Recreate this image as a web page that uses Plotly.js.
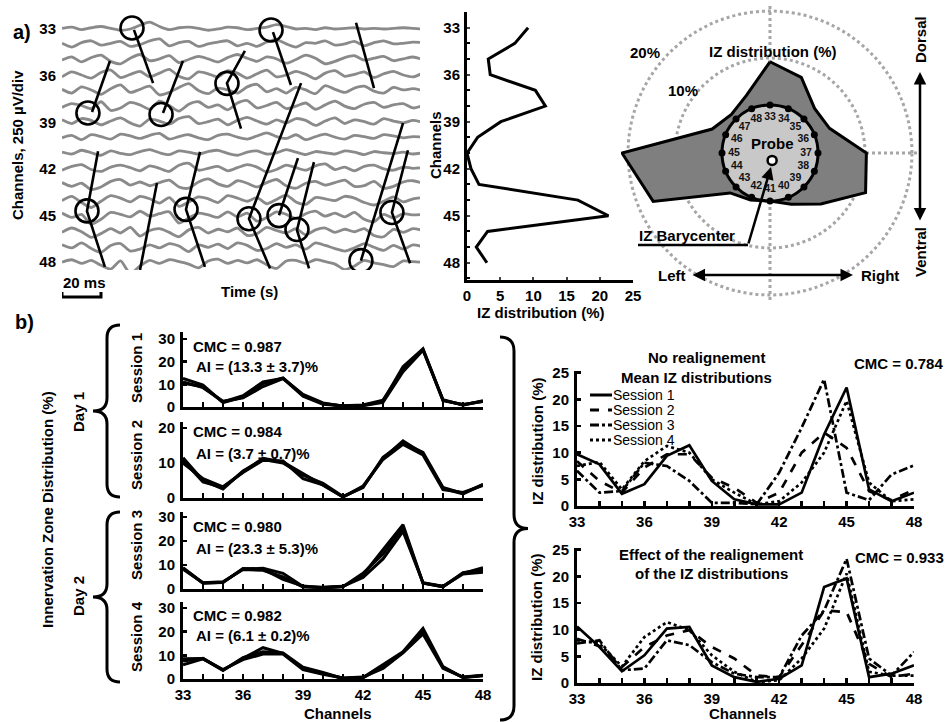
<!DOCTYPE html>
<html><head><meta charset="utf-8">
<script src="https://cdn.plot.ly/plotly-3.0.1.min.js"></script>
<style>html,body{margin:0;padding:0;background:#fff}#chart{width:947px;height:722px}</style>
</head><body><div id="chart"></div>
<script>
const W = 947, H = 722;
const FONT = 'Liberation Sans, Arial, sans-serif';

// ---------- DATA ----------
const channels = [33,34,35,36,37,38,39,40,41,42,43,44,45,46,47,48];
const channelTicks = [33,36,39,42,45,48];

// a) EMG traces, time in ms, amplitude in µV (250 µV per channel division)
const emgTime = [0,5,10,15,20,25,30,35,40,45,50,55,60,65,70,75,80,85,90,95,100,105,110,115,120,125,130,135,140,145,150,155,160,165,170,175,180,185];
const emg33 = [10,30,-10,20,40,10,-20,0,60,110,40,-10,20,30,10,-20,0,30,20,-10,10,30,70,40,0,10,-10,20,0,10,20,0,10,0,10,20,10,0];
const emg34 = [20,-40,30,60,-10,20,50,-30,0,60,90,-20,30,50,-30,10,40,60,-20,20,-30,40,80,10,-40,30,20,60,-10,10,50,-20,30,60,10,20,40,30];
const emg35 = [0,50,-30,40,80,-20,-60,30,90,-10,20,70,-40,10,60,20,-30,40,90,30,-20,50,20,-50,10,80,30,-60,-20,40,70,0,30,60,-10,20,50,10];
const emg36 = [-20,60,10,-40,50,90,-30,20,70,-20,40,100,-10,-50,60,30,-20,80,40,-40,30,90,-20,10,70,20,-50,40,80,-10,20,60,-30,30,70,10,-20,40];
const emg37 = [30,-30,70,20,-50,40,100,-20,30,80,-60,-20,60,120,10,-40,50,20,-30,70,110,-10,40,-30,60,20,-40,90,30,-20,50,80,0,-30,60,20,40,10];
const emg38 = [-10,50,20,-30,80,-60,-20,70,30,-40,90,20,-70,40,80,-10,30,-50,60,100,-20,20,70,-30,10,60,-40,30,90,10,-30,40,70,-10,30,50,-20,20];
const emg39 = [40,-20,60,30,-40,20,70,-10,-60,50,20,-30,60,90,-20,10,50,-40,30,80,20,-30,40,-10,60,30,-50,20,70,-20,40,10,-30,60,20,-10,30,0];
const emg40 = [0,40,-30,50,20,-20,60,30,-10,40,70,-20,20,50,0,-30,40,60,10,-20,30,80,20,-10,50,-30,20,60,10,-20,40,20,-10,50,30,0,20,10];
const emg41 = [20,-10,50,10,-30,40,0,-20,30,60,10,-20,40,20,-10,30,50,0,-30,20,40,-10,10,60,20,-20,30,10,-10,40,20,-20,30,10,0,20,-10,10];
const emg42 = [-20,40,70,-10,-40,30,60,20,-30,50,10,-40,60,90,-20,10,40,-30,20,70,30,-50,-10,60,20,-20,50,80,-10,30,-30,40,60,0,-20,30,10,20];
const emg43 = [30,-30,20,-80,-40,50,80,-10,40,-20,30,70,-40,-60,40,90,10,-30,60,20,-40,30,80,-20,-60,20,50,-10,30,70,-30,-20,50,-60,-30,40,60,20];
const emg44 = [-10,60,-40,-120,-20,70,30,-30,60,20,-50,40,-100,-30,50,20,-40,70,30,-20,40,-60,10,80,-30,-70,40,20,-10,60,30,-40,-80,-20,50,-30,20,40];
const emg45 = [40,-30,20,-140,-60,50,20,-20,70,-10,30,60,-120,-40,40,10,-30,60,-20,40,-90,-30,60,20,-50,30,70,-10,40,-20,50,-60,-100,20,-40,30,10,20];
const emg46 = [-20,50,-10,-100,-40,40,-30,60,-80,10,40,-20,-90,20,60,-30,30,-10,50,-70,-40,60,10,-30,40,-60,20,50,-20,30,-10,40,-70,-90,30,-20,40,10];
const emg47 = [30,-20,60,-30,-90,20,50,-70,-40,30,-20,50,10,-80,30,-10,40,-30,60,20,-60,-30,50,-10,30,-40,60,20,-30,-70,-20,50,-10,-60,20,-40,30,0];
const emg48 = [0,40,-20,30,-50,-110,20,-180,-60,30,-20,40,10,-30,-90,20,50,-20,30,-10,40,-40,-100,20,30,-20,40,10,-30,-120,-60,30,-10,-40,-70,20,10,0];
const emgTraces = [emg33,emg34,emg35,emg36,emg37,emg38,emg39,emg40,emg41,emg42,emg43,emg44,emg45,emg46,emg47,emg48];
const uVperDiv = 250;

// propagation lines (time ms, channel) and detected IZ positions
const propT  = [[36.9,46.7],[24.6,15.4],[62,51.8],[93.8,84.6,91.8],[108.2,117.4],[150.8,160],[18.5,12.8,22],[48.7,40],[70.8,63.6,73.3],[122.6,95.9,106.7],[121,111.3],[129.2,120.5,126.7],[174.9,153.3],[177.4,169.2,178.5]];
const propCh = [[33.06,36.48],[35.06,38.34],[35.06,38.4],[34.4,36.48,39.4],[33.2,36.6],[32.6,36.8],[40.86,44.72,48.3],[42.9,48.5],[40.9,44.6,48.3],[36.48,45.2,48.4],[41.3,44.98],[41.56,45.94,48.4],[39.05,47.9],[40.8,44.8,48.07]];
const izT  = [35.9,13.3,50.8,84.6,107.2,12.8,63.6,95.9,111.3,120.5,153.3,169.2];
const izCh = [32.94,38.4,38.5,36.5,33.06,44.7,44.6,45.2,45,45.9,47.9,44.8];

// IZ distribution (%) per channel
const izDist = [9.2,7.2,3.2,3.5,10.3,11.8,5.1,1.6,0,0.6,1.8,16.7,21.3,3.1,1.4,3.0];
const baryR = 0.16, baryTheta = 164;   // barycenter in probe coordinates

// b) repeated IZ distributions per session
const s1a = [12.6,9.6,1.9,4.4,10.3,12.8,5.2,1.5,0.4,0.7,2.5,17.7,25.6,3,1,2.5];
const s1b = [11,8.5,2.5,4,9,12.5,5.5,1.8,0.3,0.6,2,15.5,25,3.2,0.8,2.8];
const s1c = [10.5,9,2.2,5,11,12.6,4.8,1.2,0.5,0.9,3,16.5,25.3,2.8,1.1,2.4];
const s2a = [10.8,4.6,3,7.5,11.3,10.3,7,3.6,0.3,3.2,11.3,16.3,12.7,2.7,1.2,3.8];
const s2b = [10,5.5,3.2,7.3,10.8,10.6,5.5,3.8,0.3,3.4,11,15.3,12.3,2.4,1.6,3.6];
const s2c = [11.5,5,2.6,7.7,11,10,6.5,4.2,0.4,3,11.6,15.8,13,3,1.3,3.9];
const s3a = [8.6,2.4,2.8,8.3,8.6,6.5,1,0.6,1,5.8,16.3,26.7,2.4,1,6.5,8.9];
const s3b = [8.2,2.6,3,8.1,7.8,5,0.8,0.7,1.1,4.8,12.5,24,2.6,1.1,6.2,7];
const s3c = [8.8,2.5,2.7,8.5,8.2,4,1.2,0.5,0.9,6.5,14.5,25.5,2.5,0.9,6.8,8];
const s4a = [7.6,8.7,3.8,8.7,13.2,10.8,4.5,2.4,0.3,0.6,5.9,11.5,21.4,5.2,0.6,1.4];
const s4b = [6,8.5,4,8.2,10.5,10.5,4,2,0.4,0.8,4.5,11,19,4.5,0.8,1.6];
const s4c = [8.5,8.6,3.6,9,11.5,11,5,2.8,0.2,0.5,5.2,11.2,20.2,4.8,0.7,1.5];
const sessionStats = [['CMC = 0.987','AI = (13.3 ± 3.7)%'],['CMC = 0.984','AI = (3.7 ± 0.7)%'],['CMC = 0.980','AI = (23.3 ± 5.3)%'],['CMC = 0.982','AI = (6.1 ± 0.2)%']];

// mean distributions, no realignment / realigned
const noRealign1 = [9.7,7.8,2.3,4.1,9.4,11.4,4.7,1.25,0.3,0.3,2.5,13.4,22.2,3.1,0.9,2.5];
const noRealign2 = [8.4,4.7,2.5,7.2,9.7,9.7,5.3,3.4,0.6,2.5,10,13.75,10.9,2.8,1.1,3.1];
const noRealign3 = [6.6,2.5,2.8,8.1,7.5,4.7,0.6,0.6,0.3,6.25,14.7,23.75,2.5,1.1,5.9,7.6];
const noRealign4 = [7.5,8.25,3.1,8.4,11.25,10,5,2.5,0.3,0.9,4.4,10,19.7,4.4,0.9,1.25];
const realign1 = [10.6,6.75,2.2,5.2,10.2,10.5,3.3,1.1,0.2,0.8,3.3,18,19.6,1.1,1.75,3.3];
const realign2 = [8.3,6.9,3,6.75,8.9,9.9,6.75,4.6,1.4,1.1,7.1,13.6,13.3,3.6,1.1,1.75];
const realign3 = [7.4,8,2.4,2.7,8,7.1,3.9,1.75,1.1,1.1,8.9,13.6,23.3,4.6,1.4,5.8];
const realign4 = [8,7.4,3.1,8.6,11.4,9.9,5.2,2.1,0.2,0.5,4.6,10.2,20.5,2.1,1.4,1.4];
const sessionNames = ['Session 1','Session 2','Session 3','Session 4'];
const sessionDash = ['solid','dash','dashdot','dot'];

// ---------- helpers ----------
const X = px => px / W;
const Y = py => 1 - py / H;
const BOLD = (size) => ({family: FONT, size: size, color: '#000', weight: 'bold'});

const traces = [];

// EMG traces
emgTraces.forEach((arr, i) => {
  traces.push({type:'scatter', mode:'lines', x: emgTime, y: arr.map(v => channels[i] - v / uVperDiv),
    xaxis:'x', yaxis:'y', line:{color:'#8a8a8a', width:2.8, shape:'spline', smoothing:0.7}, hoverinfo:'skip'});
});
// propagation lines
{
  const px = [], py = [];
  propT.forEach((seg, k) => { seg.forEach((t, j) => { px.push(t); py.push(propCh[k][j]); }); px.push(null); py.push(null); });
  traces.push({type:'scatter', mode:'lines', x:px, y:py, xaxis:'x', yaxis:'y', line:{color:'#000', width:2.6}, connectgaps:false});
}
traces.push({type:'scatter', mode:'markers', x: izT, y: izCh, xaxis:'x', yaxis:'y',
  marker:{symbol:'circle-open', size:23, color:'#000', line:{width:2.6, color:'#000'}}});

// middle IZ distribution
traces.push({type:'scatter', mode:'lines', x: izDist, y: channels, xaxis:'x2', yaxis:'y2', line:{color:'#000', width:3}});

// polar distribution
const theta = channels.map(c => (c - channels[0]) * 360 / channels.length);
traces.push({type:'scatterpolar', subplot:'polar', r: izDist.concat([izDist[0]]), theta: theta.concat([theta[0]]),
  mode:'lines', fill:'toself', fillcolor:'#7f7f7f', line:{color:'#000', width:3}, cliponaxis:false});
// probe electrodes
traces.push({type:'scatterpolar', subplot:'polar2', r: channels.map(() => 1), theta: theta, mode:'markers',
  marker:{color:'#000', size:7}, cliponaxis:false});
traces.push({type:'scatterpolar', subplot:'polar2', r: channels.map(() => 0.75), theta: theta, mode:'text',
  text: channels.map(String), textfont:{family:FONT, size:10.5, color:'#111', weight:'bold'}, cliponaxis:false});
traces.push({type:'scatterpolar', subplot:'polar2', r:[baryR], theta:[baryTheta], mode:'markers',
  marker:{color:'#fff', size:9, line:{color:'#000', width:2.5}}, cliponaxis:false});

// b) left stacked session panels
const sessSets = [[s1a,s1b,s1c],[s2a,s2b,s2c],[s3a,s3b,s3c],[s4a,s4b,s4c]];
sessSets.forEach((set, i) => {
  set.forEach(arr => traces.push({type:'scatter', mode:'lines', x: channels, y: arr,
    xaxis:'x' + (i + 3), yaxis:'y' + (i + 3), line:{color:'#000', width:3}}));
});
// b) right panels
[noRealign1,noRealign2,noRealign3,noRealign4].forEach((arr, i) => traces.push({type:'scatter', mode:'lines',
  x: channels, y: arr, xaxis:'x7', yaxis:'y7', name: sessionNames[i], line:{color:'#000', width:2.7, dash: sessionDash[i]}}));
[realign1,realign2,realign3,realign4].forEach((arr, i) => traces.push({type:'scatter', mode:'lines',
  x: channels, y: arr, xaxis:'x8', yaxis:'y8', name: sessionNames[i], line:{color:'#000', width:2.7, dash: sessionDash[i]}}));

// ---------- layout ----------
const axLine = {showline:true, linecolor:'#000', linewidth:3, showgrid:false, zeroline:false};
function chanX(dom, anchor, labels) {
  return Object.assign({}, axLine, {domain: dom, anchor: anchor, range:[33,48], tickmode:'array', tickvals: channelTicks,
    showticklabels: labels, ticks:'inside', ticklen:5, tickwidth:2.5, tickcolor:'#000', tickfont: BOLD(15),
    ticklabelstandoff: 0,
    minor:{tickmode:'linear', tick0:33, dtick:1, ticks:'inside', ticklen:5, tickwidth:2.5, tickcolor:'#000'}});
}
function valY(dom, anchor, range, vals) {
  return Object.assign({}, axLine, {domain: dom, anchor: anchor, range: range, tickmode:'array', tickvals: vals,
    ticks:'inside', ticklen:4, tickwidth:2.5, tickcolor:'#000', tickfont: BOLD(15), ticklabelstandoff: 2});
}
const leftDom = [X(183), X(483)];
const rightDom = [X(577), X(914)];

const layout = {
  width: W, height: H, margin:{l:0, r:0, t:0, b:0}, paper_bgcolor:'#fff', plot_bgcolor:'rgba(0,0,0,0)',
  showlegend:false, font:{family: FONT, color:'#000'},
  xaxis: {domain:[X(62), X(420)], anchor:'y', range:[0,183.6], visible:false},
  yaxis: {domain:[Y(270), Y(15)], anchor:'x', range:[48.5,32.1], tickmode:'array', tickvals: channelTicks,
    showline:false, showgrid:false, zeroline:false, ticks:'', tickfont: BOLD(15), ticklabelstandoff: 5},
  xaxis2: Object.assign({}, axLine, {domain:[X(467), X(633)], anchor:'y2', range:[0,25], tickmode:'array',
    tickvals:[0,5,10,15,20,25], ticks:'inside', ticklen:3, tickwidth:2, tickfont: BOLD(15), ticklabelstandoff: 0}),
  yaxis2: Object.assign({}, axLine, {domain:[Y(280), Y(12)], anchor:'x2', range:[49.1,32], tickmode:'array',
    tickvals: channelTicks, ticks:'inside', ticklen:3, tickwidth:2, tickfont: BOLD(15), ticklabelstandoff: 1,
    minor:{tickmode:'linear', tick0:33, dtick:1, ticks:'inside', ticklen:3, tickwidth:2, tickcolor:'#000'}}),
  xaxis3: chanX(leftDom, 'y3', false),
  yaxis3: valY([Y(407), Y(332)], 'x3', [0,33], [0,10,20,30]),
  xaxis4: chanX(leftDom, 'y4', false),
  yaxis4: valY([Y(498), Y(422)], 'x4', [0,21.7], [0,10,20]),
  xaxis5: chanX(leftDom, 'y5', false),
  yaxis5: valY([Y(589), Y(512)], 'x5', [0,32], [0,10,20,30]),
  xaxis6: chanX(leftDom, 'y6', true),
  yaxis6: valY([Y(679), Y(602)], 'x6', [0,32.5], [0,10,20,30]),
  xaxis7: chanX(rightDom, 'y7', true),
  yaxis7: valY([Y(506), Y(371)], 'x7', [0,25.3], [0,5,10,15,20,25]),
  xaxis8: chanX(rightDom, 'y8', true),
  yaxis8: valY([Y(683), Y(548)], 'x8', [0,25.3], [0,5,10,15,20,25]),
  polar: {domain:{x:[X(621), X(919)], y:[Y(302), Y(4)]}, hole: 48/149, bgcolor:'rgba(0,0,0,0)',
    radialaxis:{range:[0,21.5], tickvals:[10,20], showticklabels:false, ticks:'', showline:false,
      gridcolor:'#a6a6a6', gridwidth:3, griddash:'dot'},
    angularaxis:{direction:'clockwise', rotation:90, tickvals:[0,90,180,270], showticklabels:false, ticks:'',
      showline:false, gridcolor:'#a6a6a6', gridwidth:3, griddash:'dot'}},
  polar2: {domain:{x:[X(722), X(818)], y:[Y(201), Y(105)]}, bgcolor:'#c8c8c8',
    radialaxis:{visible:false, range:[0,1]},
    angularaxis:{direction:'clockwise', rotation:90, showline:true, linecolor:'#000', linewidth:3,
      showgrid:false, ticks:'', showticklabels:false}},
  shapes: [], annotations: []
};

// braces
function brace(xe, xs, xt, y1, y2, r) {
  const ym = (y1 + y2) / 2;
  const p = (x, y) => X(x) + ',' + Y(y);
  return {type:'path', xref:'paper', yref:'paper', line:{color:'#000', width:3},
    path: 'M' + p(xe,y1) + ' Q' + p(xs,y1) + ' ' + p(xs,y1+r) + ' L' + p(xs,ym-r) + ' Q' + p(xs,ym) + ' ' + p(xt,ym) +
          ' Q' + p(xs,ym) + ' ' + p(xs,ym+r) + ' L' + p(xs,y2-r) + ' Q' + p(xs,y2) + ' ' + p(xe,y2)};
}
layout.shapes.push(brace(120, 107, 93, 325, 497, 13));
layout.shapes.push(brace(120, 107, 93, 512, 682, 13));
layout.shapes.push(brace(500, 514, 528, 337, 720, 14));
// scale bar 20 ms
layout.shapes.push({type:'path', xref:'x', yref:'paper', line:{color:'#000', width:3},
  path: 'M0,' + Y(292) + ' L0,' + Y(297) + ' L20,' + Y(297) + ' L20,' + Y(292)});
// barycenter pointer line
layout.shapes.push({type:'line', xref:'paper', yref:'paper', x0:X(638), x1:X(748), y0:Y(245), y1:Y(245), line:{color:'#000', width:2.5}});
// custom legend
const legY = [395, 410, 425, 440];
sessionNames.forEach((nm, i) => {
  layout.shapes.push({type:'line', xref:'paper', yref:'paper', x0:X(590), x1:X(612), y0:Y(legY[i]), y1:Y(legY[i]),
    line:{color:'#000', width:3, dash: sessionDash[i]}});
  layout.annotations.push({text: nm, xref:'paper', yref:'paper', x:X(612), y:Y(legY[i]), xanchor:'left', yanchor:'middle',
    showarrow:false, borderpad:0, font:{family:FONT, size:14, color:'#000'}});
});

function ann(text, x, y, opt) {
  layout.annotations.push(Object.assign({text: text, xref:'paper', yref:'paper', x:X(x), y:Y(y), xanchor:'center',
    yanchor:'middle', showarrow:false, font: BOLD(15)}, opt || {}));
}
ann('a)', 22, 32, {font: BOLD(20)});
ann('b)', 24, 322, {font: BOLD(20)});
ann('Channels, 250 µV/div', 18, 145, {textangle:-90});
ann('20 ms', 84, 283);
ann('Time (s)', 250, 291);
ann('Channels', 436, 145, {textangle:-90});
ann('IZ distribution (%)', 540, 312);
ann('20%', 645, 53);
ann('10%', 683, 90);
ann('IZ distribution (%)', 772, 52);
ann('Probe', 772, 143);
ann('IZ Barycenter', 687, 235);
ann('Left', 672, 275);
ann('Right', 880, 275);
ann('Dorsal', 920, 40, {textangle:-90});
ann('Ventral', 920, 252, {textangle:-90});
ann('Innervation Zone Distribution (%)', 47, 510, {textangle:-90});
ann('Day 1', 78, 412, {textangle:-90});
ann('Day 2', 78, 596, {textangle:-90});
const sessLabelY = [368, 455, 545, 637];
sessionNames.forEach((nm, i) => ann(nm, 136, sessLabelY[i], {textangle:-90}));
const statY = [[346, 366], [432, 453], [526, 548], [615, 635]];
sessionStats.forEach((st, i) => {
  ann(st[0], 191, statY[i][0], {xanchor:'left'});
  ann(st[1], 194, statY[i][1], {xanchor:'left'});
});
ann('Channels', 338, 713, {borderpad:0});
ann('No realignement', 707, 357);
ann('Mean IZ distributions', 696, 377);
ann('CMC = 0.784', 898, 363);
ann('IZ distribution (%)', 537, 442, {textangle:-90});
ann('Effect of the realignement', 711, 554);
ann('of the IZ distributions', 711, 573);
ann('CMC = 0.933', 899, 557);
ann('IZ distribution (%)', 536, 618, {textangle:-90});
ann('Channels', 743, 713, {borderpad:0});
// arrows
const arrowBase = {xref:'paper', yref:'paper', showarrow:true, text:'', arrowcolor:'#000', arrowwidth:2.5, arrowhead:2, arrowsize:1, axref:'pixel', ayref:'pixel'};
layout.annotations.push(Object.assign({}, arrowBase, {x:X(771), y:Y(167), ax:-23, ay:78}));
layout.annotations.push(Object.assign({}, arrowBase, {x:X(920), y:Y(72), ax:0, ay:150, arrowside:'end+start'}));
layout.annotations.push(Object.assign({}, arrowBase, {x:X(853), y:Y(275), ax:-162, ay:0, arrowside:'end+start'}));

Plotly.newPlot('chart', traces, layout, {displayModeBar:false, staticPlot:true});
</script></body></html>
